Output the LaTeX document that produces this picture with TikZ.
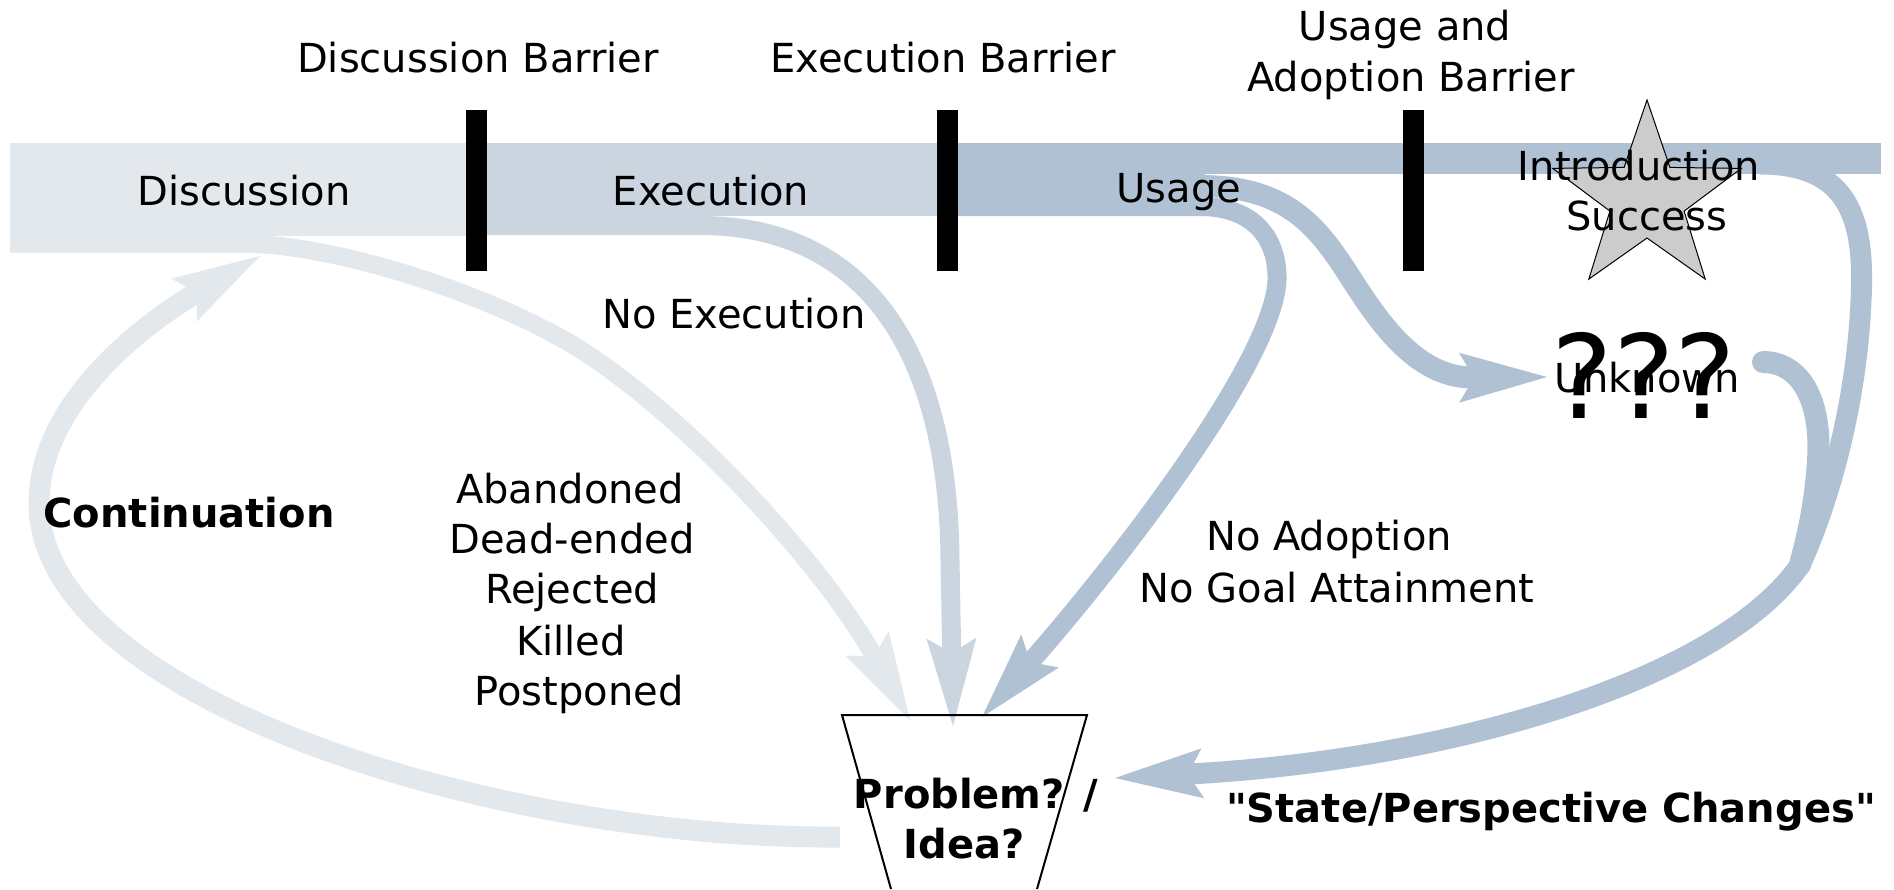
\documentclass[tikz,border=0pt]{standalone}
\usepackage{fontspec}
\setmainfont{DejaVu Sans}
\newfontfamily\plainfont{DejaVu Sans}
\usetikzlibrary{arrows.meta}
\definecolor{cDisc}{HTML}{E3E8ED}
\definecolor{cExec}{HTML}{CBD5E0}
\definecolor{cUse}{HTML}{B0C1D3}
\definecolor{starGray}{HTML}{CCCCCC}
\begin{document}
\begin{tikzpicture}[x=0.5pt,y=-0.5pt,
  font=\fontsize{20pt}{25pt}\selectfont,
  lbl/.style={inner sep=0pt, anchor=base},
  blbl/.style={inner sep=0pt, anchor=base, font=\fontsize{20pt}{25pt}\selectfont\bfseries},
  barrierbar/.style={fill=black, inner sep=0pt, minimum width=10.5pt, minimum height=80.5pt},
  flowline/.style={line width=10pt},
  flowtip/.style={-{Stealth[length=44pt, width=25pt, inset=7.5pt, line width=0pt]}},
]
\useasboundingbox (0,0) rectangle (1894,889);

% bands
\fill[cDisc] (10,143) rectangle (476,236);
\fill[cExec] (476,143) rectangle (947,216);
\fill[cUse] (947,143) rectangle (1205,216);
\fill[cUse] (1200,143) rectangle (1881,174);

% named end points
\coordinate (dA0) at (10,243.5);
\coordinate (pA) at (910,720);
\coordinate (eX0) at (476,225.5);
\coordinate (pE) at (953,726);
\coordinate (uN0) at (947,206.5);
\coordinate (pN) at (982,717);
\coordinate (uU0) at (947,186);
\coordinate (unk) at (1547,377);
\coordinate (rC0) at (1760,164);
\coordinate (jn) at (1800,565);
\coordinate (pBig) at (1115,778);
\coordinate (qS) at (1763,362);
\coordinate (cS) at (840,837);
\coordinate (cT) at (260,256);

% flows
\draw[flowline, cDisc, flowtip, line width=9pt] (dA0) -- (240,243.5)
  .. controls (330,243.5) and (480,290) .. (573,345)
  .. controls (680,410) and (820,560) .. (pA);
\draw[flowline, cExec, flowtip, line width=9.5pt] (eX0) -- (700,225.5)
  .. controls (850,225.5) and (948,330) .. (950,560) -- (pE);
\draw[flowline, cUse, flowtip, line width=9.5pt] (uN0) -- (1200,206.5)
  .. controls (1255,206.5) and (1278,240) .. (1277,280)
  .. controls (1274,360) and (1120,560) .. (pN);
\draw[flowline, cUse, flowtip, line width=11pt] (uU0) -- (1200,186)
  .. controls (1290,186) and (1320,230) .. (1352,280)
  .. controls (1384,330) and (1420,378) .. (unk);
\draw[flowline, cUse, line cap=round, line width=11pt] (qS)
  .. controls (1800,362) and (1822,400) .. (1818,460)
  .. controls (1815,510) and (1805,545) .. (jn);
\draw[flowline, cUse, flowtip, line width=10.5pt] (rC0)
  .. controls (1850,164) and (1865,220) .. (1861,300)
  .. controls (1857,400) and (1830,500) .. (jn)
  .. controls (1720,680) and (1450,760) .. (pBig);
\draw[flowline, cDisc, flowtip, line width=10.5pt] (cS)
  .. controls (500,840) and (39,700) .. (39,503)
  .. controls (39,400) and (150,320) .. (cT);

% barriers
\node[barrierbar] (b1) at (476.5,190.5) {};
\node[barrierbar] (b2) at (947,190.5) {};
\node[barrierbar] (b3) at (1413.5,190.5) {};

% star
\draw[fill=starGray, line width=0.5pt] (1647,100) -- (1669.9,167.4) -- (1741.2,168.4)
  -- (1684.1,211.1) -- (1705.2,279.1) -- (1647,238) -- (1588.8,279.1)
  -- (1609.9,211.1) -- (1552.8,168.4) -- (1624.1,167.4) -- cycle;

% problem / idea funnel
\draw[line width=1pt] (891,889) -- (842,715) -- (1087,715) -- (1037,889);

% labels
\node[lbl] (tDB) at (478,72) {Discussion Barrier};
\node[lbl] (tEB) at (943,72) {Execution Barrier};
\node[lbl] (tUB1) at (1405,40) {Usage and};
\node[lbl] (tUB2) at (1411,91) {Adoption Barrier};
\node[lbl] (tD) at (244,205) {Discussion};
\node[lbl] (tE) at (711,205) {Execution};
\node[lbl] (tU) at (1179,202) {Usage};
\node[lbl] (tI1) at (1639,180) {Introduction};
\node[lbl] (tI2) at (1647,230) {Success};
\node[lbl] (tNE) at (734,328) {No Execution};
\node[lbl] (ab1) at (570,503) {Abandoned};
\node[lbl] (ab2) at (572,553) {Dead-ended};
\node[lbl] (ab3) at (572,603) {Rejected};
\node[lbl] (ab4) at (571,655) {Killed};
\node[lbl] (ab5) at (579,705) {Postponed};
\node[lbl] (tNA1) at (1329,550) {No Adoption};
\node[lbl] (tNA2) at (1337,602) {No Goal Attainment};
\node[lbl, font=\fontsize{58pt}{60pt}\selectfont] (tQ) at (1644,418) {???};
\node[lbl] (unknown) at (1647,392) {Unknown};
\node[blbl] (tC) at (189,527) {Continuation};
\node[blbl] (tS) at (1551,822) {\plainfont\bfseries "State/Perspective Changes"};
\node[blbl] (prob) at (976,808) {Problem? /};
\node[blbl] (idea) at (964,858) {Idea?};
\end{tikzpicture}
\end{document}
